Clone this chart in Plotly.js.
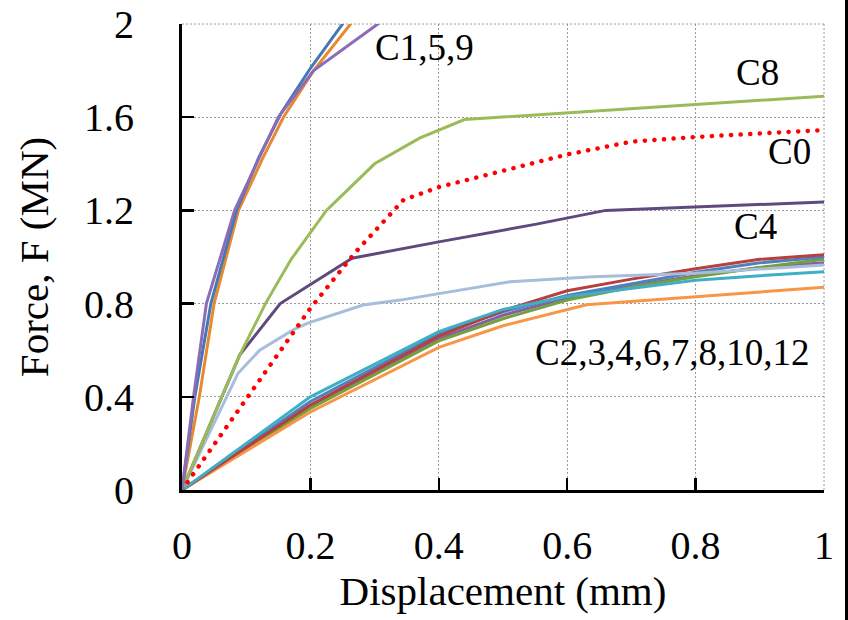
<!DOCTYPE html>
<html>
<head>
<meta charset="utf-8">
<script src="https://cdn.plot.ly/plotly-3.0.1.min.js"></script>
<style>
html,body{margin:0;padding:0;background:#fff;}
#wrap{position:relative;width:848px;height:620px;overflow:hidden;}
#chart{width:848px;height:620px;}
#edge{position:absolute;left:845px;top:0;width:3px;height:620px;background:#000;}
</style>
</head>
<body>
<div id="wrap"><div id="chart"></div><div id="edge"></div></div>
<script>
// C1, C5, C9 (steep curves)
var c1X = [0, 0.02, 0.045, 0.085, 0.12, 0.155, 0.2, 0.25, 0.3];
var c1Y = [0, 0.4, 0.8, 1.2, 1.43, 1.62, 1.81, 2.0, 2.19];
var c5X = [0, 0.027, 0.05, 0.088, 0.125, 0.158, 0.205, 0.262, 0.3];
var c5Y = [0, 0.4, 0.8, 1.2, 1.42, 1.6, 1.8, 2.0, 2.13];
var c9X = [0, 0.018, 0.038, 0.082, 0.15, 0.205, 0.305, 0.35];
var c9Y = [0, 0.4, 0.8, 1.2, 1.6, 1.8, 2.0, 2.09];
// C8 (upper) and C0 (dotted reference)
var c8X = [0, 0.09, 0.13, 0.17, 0.225, 0.3, 0.37, 0.44, 1];
var c8Y = [0, 0.58, 0.8, 0.99, 1.2, 1.4, 1.51, 1.59, 1.69];
var c0X = [0, 0.2, 0.27, 0.345, 0.4, 0.5, 0.6, 0.7, 0.8, 0.9, 1];
var c0Y = [0, 0.78, 1.02, 1.245, 1.3, 1.37, 1.44, 1.495, 1.515, 1.53, 1.545];
// C4 (upper)
var c4X = [0, 0.09, 0.153, 0.265, 0.4, 0.55, 0.66, 0.8, 1];
var c4Y = [0, 0.58, 0.8, 0.995, 1.065, 1.14, 1.2, 1.215, 1.236];
// light blue curve
var lbX = [0, 0.087, 0.121, 0.173, 0.196, 0.282, 0.34, 0.433, 0.511, 0.64, 0.8, 1];
var lbY = [0, 0.5, 0.6, 0.687, 0.716, 0.794, 0.815, 0.858, 0.894, 0.915, 0.93, 0.966];
// lower bundle C2,3,4,6,7,8,10,12
var bundleX = [0, 0.2, 0.4, 0.5, 0.6, 0.7, 0.8, 0.9, 1];
var cyanY   = [0, 0.40, 0.68, 0.775, 0.83, 0.865, 0.9, 0.92, 0.937];
var redY    = [0, 0.365, 0.66, 0.77, 0.855, 0.905, 0.95, 0.99, 1.01];
var blueY   = [0, 0.38, 0.67, 0.765, 0.835, 0.885, 0.935, 0.975, 1.0];
var purpY   = [0, 0.36, 0.65, 0.75, 0.825, 0.875, 0.92, 0.955, 0.975];
var greenY  = [0, 0.35, 0.64, 0.735, 0.815, 0.87, 0.915, 0.955, 0.99];
var orangeX = [0, 0.2, 0.4, 0.5, 0.63, 0.8, 1];
var orangeY = [0, 0.335, 0.612, 0.705, 0.795, 0.83, 0.87];

var xTicks = [0, 0.2, 0.4, 0.6, 0.8, 1];
var xTickText = ['0', '0.2', '0.4', '0.6', '0.8', '1'];
var yTicks = [0, 0.4, 0.8, 1.2, 1.6, 2];
var yTickText = ['0', '0.4', '0.8', '1.2', '1.6', '2'];

var labels = ['C1,5,9', 'C8', 'C0', 'C4', 'C2,3,4,6,7,8,10,12'];
var labelX = [0.377, 0.896, 0.947, 0.893, 0.763];
var labelY = [1.901, 1.794, 1.451, 1.129, 0.592];

function ln(x, y, color, w, dash) {
  return {x: x, y: y, type: 'scatter', mode: 'lines', hoverinfo: 'skip',
          line: {color: color, width: w || 3, dash: dash || 'solid'}};
}

var traces = [
  ln(bundleX, purpY, '#8064A2', 3),
  ln(bundleX, greenY, '#77A03C', 3),
  ln(orangeX, orangeY, '#F79646', 3),
  ln(bundleX, blueY, '#4F81BD', 3),
  ln(bundleX, redY, '#B5403D', 3),
  ln(bundleX, cyanY, '#3FAFC8', 3),
  ln(lbX, lbY, '#A7BDDC', 3),
  ln(c4X, c4Y, '#5F4A7E', 3),
  ln(c8X, c8Y, '#9BBB59', 3),
  ln(c0X, c0Y, '#FF0000', 4.5, '0.1px,9.5px'),
  ln(c5X, c5Y, '#E6892F', 3),
  ln(c1X, c1Y, '#4678B4', 3),
  ln(c9X, c9Y, '#8A6CB8', 3)
];
var dottedIndex = 9;

var annotations = labels.map(function (t, i) {
  return {x: labelX[i], y: labelY[i], xref: 'x', yref: 'y', text: t, showarrow: false,
          font: {family: 'Liberation Serif', size: 37, color: '#000'}};
});

var gridStyle = {color: '#9a9a9a', width: 1, dash: '2px,2px'};
var shapes = [
  {type: 'line', xref: 'paper', yref: 'paper', x0: 0, x1: 1, y0: 1, y1: 1, line: gridStyle, layer: 'below'},
  {type: 'line', xref: 'paper', yref: 'paper', x0: 1, x1: 1, y0: 0, y1: 1, line: gridStyle, layer: 'below'}
];

var serif = 'Liberation Serif, Times New Roman, serif';
var layout = {
  width: 848, height: 620,
  margin: {l: 182, r: 24, t: 24, b: 130},
  paper_bgcolor: '#fff', plot_bgcolor: '#fff',
  showlegend: false,
  font: {family: serif, color: '#000'},
  xaxis: {
    range: [0, 1], tickvals: xTicks, ticktext: xTickText,
    ticks: 'inside', ticklen: 12, tickwidth: 2.5, tickcolor: '#000',
    showline: true, linecolor: '#000', linewidth: 3,
    showgrid: true, gridcolor: '#9a9a9a', gridwidth: 1, griddash: '2px,2px',
    zeroline: false, tickfont: {family: serif, size: 40, color: '#000'},
    ticklabelstandoff: 18,
    title: {text: 'Displacement (mm)', font: {family: serif, size: 41, color: '#000'}, standoff: 10},
    automargin: false, fixedrange: true
  },
  yaxis: {
    range: [0, 2], tickvals: yTicks, ticktext: yTickText,
    ticks: 'inside', ticklen: 12, tickwidth: 2.5, tickcolor: '#000',
    showline: true, linecolor: '#000', linewidth: 3,
    showgrid: true, gridcolor: '#9a9a9a', gridwidth: 1, griddash: '2px,2px',
    zeroline: false, tickfont: {family: serif, size: 40, color: '#000'},
    ticklabelstandoff: 37,
    title: {text: 'Force, F (MN)', font: {family: serif, size: 41, color: '#000'}, standoff: 23},
    automargin: false, fixedrange: true
  },
  shapes: shapes,
  annotations: annotations
};

Plotly.newPlot('chart', traces, layout, {displayModeBar: false, staticPlot: true}).then(function (gd) {
  var groups = gd.querySelectorAll('.scatterlayer .trace');
  var g = groups[dottedIndex];
  if (g) {
    g.querySelectorAll('path.js-line').forEach(function (p) {
      p.style.strokeLinecap = 'round';
    });
  }
});
</script>
</body>
</html>
